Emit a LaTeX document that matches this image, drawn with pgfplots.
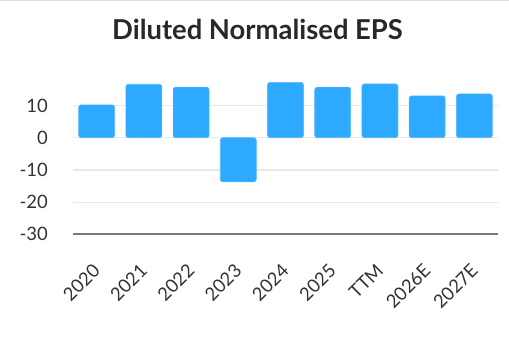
\documentclass[border=0pt]{standalone}
\usepackage{pgfplots}
\pgfplotsset{compat=1.18}
\usepackage{fontspec}
\setmainfont{Lato}
\definecolor{barblue}{RGB}{45,169,255}
\definecolor{gridgray}{RGB}{232,232,232}
\definecolor{axisgray}{RGB}{120,120,120}
\definecolor{labelgray}{RGB}{51,51,51}
\definecolor{titlegray}{RGB}{40,40,40}
\begin{document}
\begin{tikzpicture}[x=1bp,y=1bp]
\useasboundingbox (0,0) rectangle (509,341);
\draw[gray!25, line width=1.5bp] (0,340.5) -- (509,340.5);
\node[anchor=base, font=\fontsize{27.5}{31}\selectfont\bfseries, text=titlegray] at (257.5,301.7) {Diluted Normalised EPS};
\begin{axis}[
  at={(73bp,106.7bp)}, anchor=south west,
  scale only axis, width=425bp, height=161bp,
  xmin=-0.5, xmax=8.5, ymin=-30, ymax=20,
  xtick=data,
  xticklabels={2020,2021,2022,2023,2024,2025,TTM,2026E,2027E},
  ytick={-30,-20,-10,0,10},
  ymajorgrids, grid style={gridgray, line width=1.2bp},
  axis x line*=bottom, axis y line*=left,
  y axis line style={draw=none},
  x axis line style={draw=axisgray, line width=2bp},
  major tick length=0pt,
  /pgf/number format/assume math mode=true,
  ticklabel style={font=\fontsize{18.5}{22}\selectfont, text=labelgray},
  yticklabel style={anchor=east, inner sep=0pt, xshift=-25bp},
  xticklabel style={rotate=45, anchor=east, inner sep=0pt},
  xticklabel shift=33bp,
  clip=false,
]
\addplot[ybar, bar width=36bp, bar shift=0pt, fill=barblue, draw=barblue!80!white, line width=0.6bp, rounded corners=2.5bp]
  coordinates {(0,10.2) (1,16.6) (2,15.7) (3,-13.7) (4,17.2) (5,15.7) (6,16.7) (7,13.0) (8,13.6)};
\end{axis}
\end{tikzpicture}
\end{document}
